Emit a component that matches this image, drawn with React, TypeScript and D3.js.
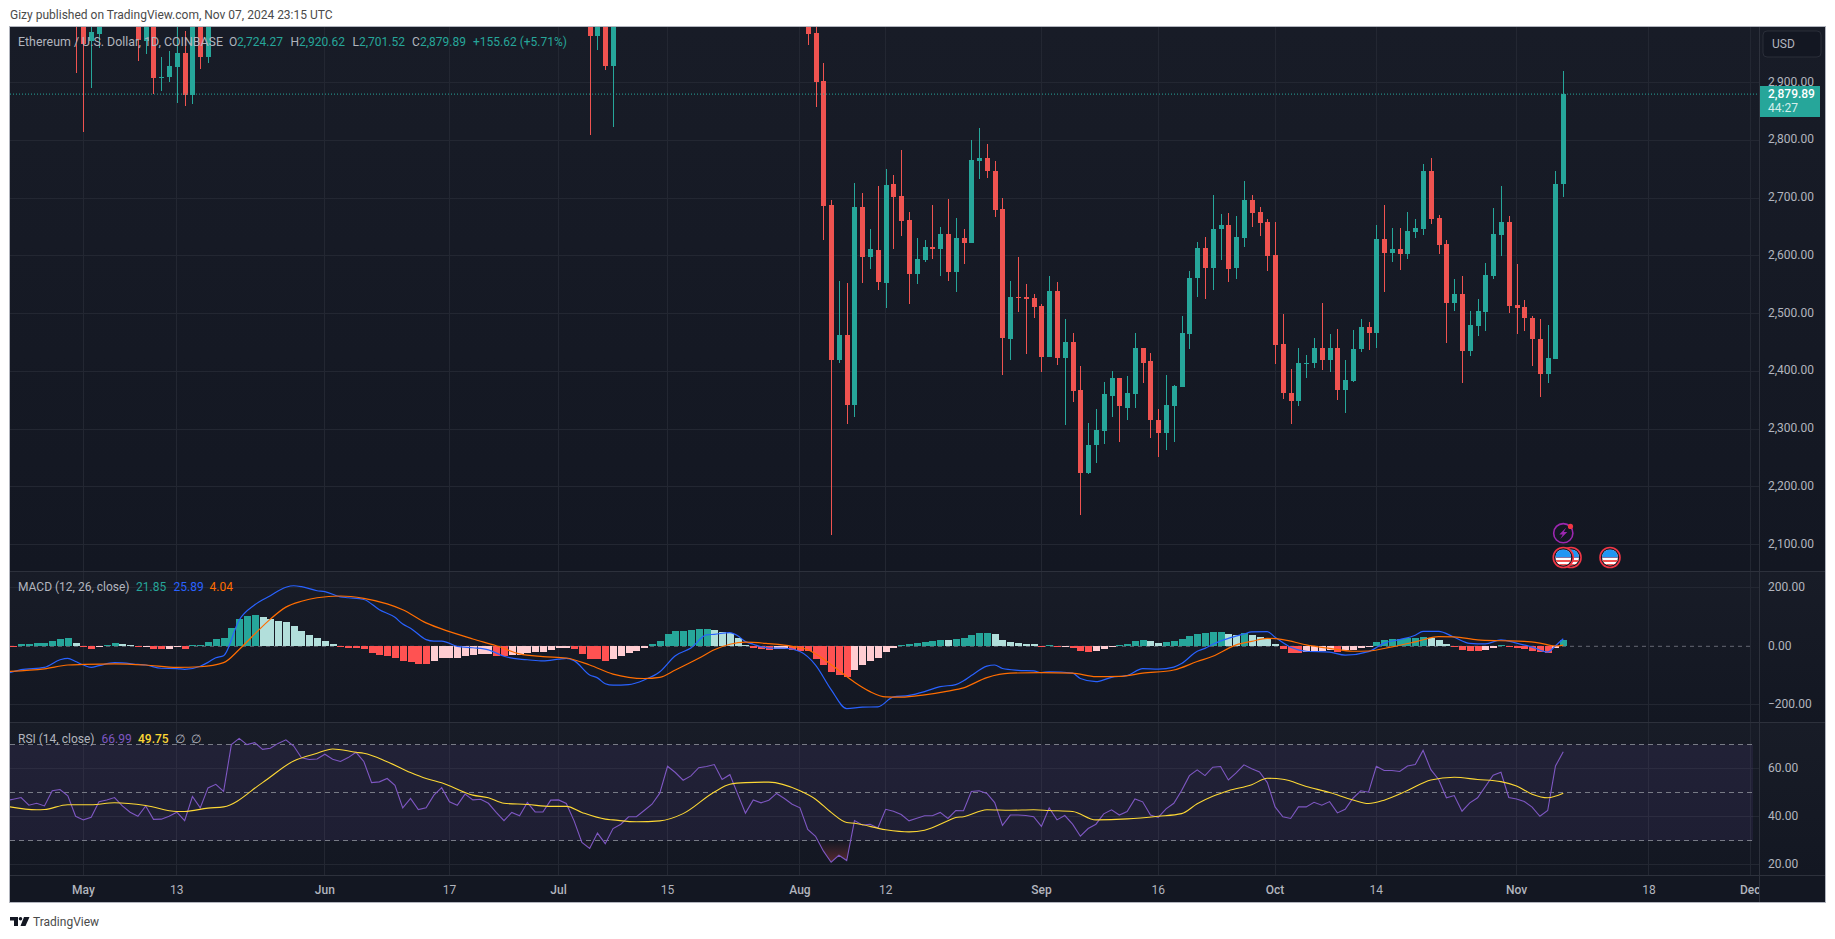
import { useEffect, useRef } from 'react'
import * as d3 from 'd3'

// Days are counted from 1 May 2024 (May 1 = 0, Nov 7 = 190)
const tickDays = [0, 12, 31, 47, 61, 75, 92, 103, 123, 138, 153, 166, 184, 201, 214]
const tickLabels = ['May', '13', 'Jun', '17', 'Jul', '15', 'Aug', '12', 'Sep', '16', 'Oct', '14', 'Nov', '18', 'Dec']
const monthTicks = ['May', 'Jun', 'Jul', 'Aug', 'Sep', 'Oct', 'Nov', 'Dec']

const priceTicks = [2900, 2800, 2700, 2600, 2500, 2400, 2300, 2200, 2100]
const macdTicks = [200, 0, -200]
const rsiGridTicks = [60, 40, 20]
const rsiBandTicks = [70, 50, 30]
const lastPrice = 2879.89

// candles that reach into the visible range; the ones above the pane are left out
const candleDays = [
  -1, 0, 1, 2, 7, 8, 9, 10, 11, 12, 13, 14, 15, 16, 65, 66, 67, 68, 93, 94, 95,
  96, 97, 98, 99, 100, 101, 102, 103, 104, 105, 106, 107, 108, 109, 110, 111, 112, 113, 114, 115,
  116, 117, 118, 119, 120, 121, 122, 123, 124, 125, 126, 127, 128, 129, 130, 131, 132, 133, 134, 135,
  136, 137, 138, 139, 140, 141, 142, 143, 144, 145, 146, 147, 148, 149, 150, 151, 152, 153, 154, 155,
  156, 157, 158, 159, 160, 161, 162, 163, 164, 165, 166, 167, 168, 169, 170, 171, 172, 173, 174, 175,
  176, 177, 178, 179, 180, 181, 182, 183, 184, 185, 186, 187, 188, 189, 190,
]
const opens = [
  3215, 3014, 2972, 2984, 3005, 2972, 3035, 2908, 2910, 2927, 2951, 2879, 3037, 2944, 3100, 2981, 3066, 2929, 3200, 2986, 2903,
  2688, 2420, 2462, 2341, 2684, 2597, 2610, 2553, 2724, 2703, 2662, 2568, 2592, 2615, 2612, 2638, 2571, 2631, 2622, 2764,
  2769, 2746, 2681, 2456, 2528, 2528, 2527, 2513, 2424, 2539, 2423, 2450, 2367, 2224, 2272, 2296, 2358, 2388, 2337, 2360,
  2441, 2417, 2315, 2293, 2339, 2372, 2464, 2561, 2613, 2579, 2646, 2653, 2579, 2631, 2696, 2675, 2658, 2601, 2447, 2363,
  2348, 2412, 2414, 2440, 2419, 2440, 2367, 2383, 2438, 2476, 2466, 2629, 2605, 2612, 2603, 2641, 2646, 2746, 2665, 2620,
  2519, 2533, 2435, 2478, 2502, 2565, 2636, 2658, 2514, 2511, 2493, 2456, 2395, 2421, 2724.27,
]
const highs = [
  3240, 3025, 3020, 3130, 3020, 3050, 3050, 2944, 2954, 3040, 2989, 3070, 3045, 3120, 3120, 3080, 3080, 3050, 3220, 3020, 2934,
  2696, 2556, 2553, 2726, 2709, 2646, 2721, 2750, 2740, 2783, 2675, 2631, 2627, 2688, 2649, 2698, 2665, 2646, 2800, 2821,
  2794, 2764, 2700, 2556, 2597, 2551, 2534, 2516, 2565, 2554, 2490, 2466, 2409, 2311, 2334, 2381, 2400, 2389, 2391, 2466,
  2441, 2432, 2334, 2393, 2376, 2495, 2573, 2623, 2632, 2705, 2672, 2674, 2669, 2729, 2705, 2684, 2664, 2658, 2499, 2404,
  2441, 2428, 2457, 2519, 2464, 2473, 2419, 2471, 2490, 2485, 2653, 2688, 2648, 2648, 2675, 2664, 2759, 2769, 2670, 2627,
  2560, 2565, 2504, 2525, 2587, 2683, 2720, 2669, 2586, 2523, 2495, 2490, 2480, 2746, 2920.62,
]
const lows = [
  2917, 2815, 2891, 2960, 2938, 2950, 2880, 2886, 2901, 2865, 2860, 2863, 2924, 2934, 2809, 2956, 2922, 2823, 2965, 2858, 2628,
  2117, 2415, 2308, 2320, 2553, 2577, 2540, 2510, 2612, 2634, 2516, 2551, 2589, 2594, 2565, 2556, 2537, 2586, 2622, 2733,
  2735, 2667, 2393, 2419, 2502, 2430, 2492, 2398, 2424, 2410, 2307, 2346, 2151, 2222, 2241, 2274, 2320, 2277, 2315, 2336,
  2380, 2284, 2251, 2263, 2277, 2372, 2438, 2528, 2525, 2540, 2592, 2554, 2560, 2615, 2649, 2634, 2573, 2412, 2352, 2308,
  2339, 2389, 2405, 2402, 2398, 2350, 2328, 2381, 2433, 2436, 2441, 2537, 2589, 2575, 2594, 2631, 2636, 2655, 2603, 2449,
  2504, 2380, 2426, 2461, 2469, 2560, 2599, 2501, 2464, 2469, 2409, 2355, 2380, 2421, 2701.52,
]
const closes = [
  3014, 2967, 2987, 3100, 2973, 3035, 2908, 2910, 2929, 2951, 2879, 3037, 2944, 3095, 2981, 3066, 2929, 3020, 2984, 2901, 2686,
  2420, 2462, 2341, 2684, 2597, 2612, 2554, 2722, 2701, 2660, 2568, 2594, 2615, 2612, 2638, 2571, 2631, 2622, 2766, 2769,
  2746, 2679, 2457, 2528, 2527, 2525, 2511, 2424, 2539, 2423, 2450, 2365, 2224, 2272, 2298, 2360, 2388, 2339, 2362, 2441,
  2415, 2315, 2293, 2341, 2374, 2466, 2561, 2613, 2579, 2646, 2653, 2577, 2632, 2696, 2674, 2657, 2599, 2445, 2362, 2348,
  2414, 2414, 2440, 2419, 2440, 2367, 2384, 2438, 2476, 2466, 2629, 2605, 2612, 2603, 2642, 2648, 2746, 2664, 2618, 2519,
  2533, 2435, 2480, 2504, 2566, 2637, 2658, 2513, 2510, 2492, 2456, 2395, 2423, 2724, 2879.89,
]

// MACD histogram, one bar a day from day -9
const histStart = -9
const histValues = [
  -4, 9, 9.5, 12, 12.5, 19, 26, 27, 12, -2,
  -8, -2, 6, 12, 9, 6, -2, -1.5, -8, -9,
  -8, -4, -8, 5, 5.5, 16, 26, 27, 63, 93,
  104, 107, 99, 93, 88, 83, 70, 54, 40, 27,
  19, 8, -1, -5, -5.5, -8, -23, -30, -33, -40,
  -50, -54, -60, -61, -50, -41, -40, -39.5, -33, -30,
  -27, -26, -33, -34, -30, -29, -23, -20, -19, -13,
  -6, -5, -9, -26, -43, -44, -50, -43, -33, -23,
  -16, -6, 8, 18, 42, 52, 53, 56, 59, 60,
  56, 49, 46, 28, 5, -6, -9, -13, -9, -8,
  -13, -16, -17, -43, -64, -88, -98, -105, -81, -64,
  -50, -40, -20, -6, 5, 8, 11, 15, 18, 22,
  21, 25, 28, 38, 46, 47, 42, 22, 15, 11,
  8, 7, -1, 5, -2, -1, -5, -16, -19, -16,
  -9, -2, 5, 8, 18, 22, 18, 11, 15, 18,
  25, 35, 42, 46, 48, 49, 42, 40, 46, 39,
  32, 25, 8, -9, -23, -24, -20, -16, -15, -14,
  -20, -13, -12, -6, -4, 15, 22, 25, 26, 27,
  28, 32, 28, 22, 8, -1, -13, -16, -17, -13,
  -6, 5, -1, -5, -9, -16, -19, -23, -5, 21.85,
]

const macdDays = [
  -10, -8, -5, -3, -2, -1, 0, 1, 2, 4, 5, 7, 8, 10, 12, 13, 15, 16, 17, 18, 20, 22, 24, 26, 27, 28, 30, 31, 33, 34, 36, 38,
  40, 41, 42, 44, 45, 46, 48, 50, 52, 54, 56, 57, 59, 61, 62, 63, 65, 66, 67, 68, 70, 72, 74, 76, 78, 80, 81, 83, 84, 85,
  86, 88, 90, 92, 94, 96, 98, 100, 102, 104, 106, 108, 110, 112, 113, 114, 116, 117, 118, 120, 122, 123, 124, 127, 128,
  130, 132, 134, 136, 138, 140, 141, 143, 144, 145, 147, 149, 150, 152, 153, 155, 157, 160, 162, 165, 167, 169, 171, 172,
  174, 176, 178, 180, 182, 184, 186, 188, 189, 190,
]
const macdLine = [
  -95, -80, -72, -46, -41, -52, -64, -72, -66, -56, -57, -62, -64, -75, -76, -79, -68, -55, -39, -32, 90, 142, 173, 202, 207, 204, 190, 187, 169, 166, 160, 125,
  99, 76, 62, 23, 18, 18, 0, -5, -12, -34, -44, -46, -50, -44, -41, -49, -98, -108, -128, -133, -131, -115, -87, -32, -6, 39, 41, 47, 36, 16,
  7, -6, -6, -18, -64, -148, -213, -208, -207, -173, -168, -155, -138, -131, -118, -100, -68, -64, -76, -82, -84, -90, -87, -92, -110,
  -121, -106, -100, -76, -78, -71, -59, -17, -7, 7, 27, 42, 49, 50, 31, -3, -17, -20, -30, -18, 11, 23, 38, 51,
  51, 31, 10, 8, 22, 11, -3, -20, 2, 25.89,
]

const signalDays = [
  -10, -5, -2, 0, 4, 8, 12, 15, 18, 20, 22, 24, 26, 28, 30, 33, 36, 39, 41, 44, 47, 50, 53, 56, 59, 62, 65, 68, 70, 72, 74, 76,
  79, 81, 83, 85, 88, 91, 93, 95, 97, 99, 101, 103, 105, 108, 111, 113, 116, 119, 123, 127, 130, 133, 136, 140, 143, 145, 148,
  150, 152, 154, 157, 160, 163, 165, 168, 171, 174, 176, 179, 182, 185, 187, 189, 190,
]
const signalLine = [
  -86, -77, -64, -62, -60, -64, -72, -70, -56, -11, 42, 93, 134, 154, 166, 172, 164, 145, 125, 80, 50, 25, 2, -26, -35, -40, -64, -95, -106, -110, -106, -81,
  -41, -12, 7, 14, 9, 0, -12, -43, -83, -123, -155, -173, -174, -166, -153, -142, -107, -92, -90, -92, -104, -103, -92, -81, -52, -34, 5,
  17, 27, 23, 5, -7, -17, -16, -2, 15, 33, 32, 22, 19, 17, 11, 1, 4.04,
]

// RSI, one point a day from day -10
const rsiStart = -10
const rsiValues = [
  46.6, 47.3, 48, 44.8, 45.6, 44.5, 50.8, 51.3, 48.7, 40.2,
  38.7, 39.8, 46.2, 47, 48, 44.5, 41.9, 40.2, 44.5, 38.9,
  39, 40.2, 41.9, 38.4, 48.4, 43.7, 52, 53.5, 50.5, 70,
  72.6, 70, 70.8, 68, 68.5, 70.5, 72, 69.4, 64.5, 63.8,
  64, 66, 63.9, 63, 64.6, 66.8, 63, 54.2, 54.5, 55.9,
  53.1, 43.7, 47.6, 43, 43.7, 49, 52.1, 46.2, 44.8, 49.4,
  47, 47.3, 45.6, 41.8, 38.4, 41.8, 40.4, 45.9, 42, 42,
  46.9, 47, 45.5, 38.3, 29.3, 26.8, 33.2, 28.8, 35.1, 36.9,
  40, 40, 42.6, 45.2, 49.8, 61, 58.4, 55.2, 57, 60.4,
  60.9, 61.7, 55.5, 57.5, 49.5, 41.5, 47, 45.8, 46.9, 49.7,
  47.6, 45.2, 43.7, 34.7, 31.9, 25.8, 21.1, 24, 21.8, 38.4,
  36.6, 36.9, 35.3, 43.1, 42.3, 40.9, 38.3, 39.4, 40.4, 40.4,
  41.8, 39.3, 42.6, 42.5, 50.5, 50.8, 49.7, 45.9, 36.4, 40.7,
  40.7, 40.5, 40, 36, 43.7, 38.7, 40.5, 36.9, 31.9, 35.1,
  36.9, 41.2, 42.9, 40.7, 42.2, 47.4, 46.2, 40.7, 39.7, 43.3,
  45.6, 50.9, 57.1, 59.5, 57.1, 60.6, 60.9, 55.3, 58.2, 61.6,
  60, 58.6, 54.2, 44.1, 40, 39.3, 44.1, 44.1, 46, 44.8,
  46.3, 41.6, 43.1, 47.7, 50.8, 50.2, 61, 59.2, 59.2, 58.8,
  61.1, 61.7, 67.6, 59.6, 55.5, 47.9, 48.8, 42.3, 45.8, 47.9,
  52.6, 57.3, 58.5, 48, 47.4, 46.3, 44, 40.2, 42.6, 61.1,
  66.99,
]

const rsiMaDays = [
  -10, -6, -5, -2, 1, 4, 8, 12, 13, 16, 18, 23, 27, 30, 32, 35, 36, 39, 42, 44, 46, 50, 52, 54, 57, 60, 62, 64, 67, 68,
  71, 74, 77, 81, 83, 85, 88, 92, 94, 96, 98, 99, 103, 106, 108, 111, 112, 113, 116, 119, 122, 124, 127, 130, 134, 138, 141, 143, 145,
  147, 150, 152, 154, 157, 160, 163, 165, 167, 170, 173, 176, 179, 182, 184, 186, 188, 190,
]
const rsiMaLine = [
  44.4, 42.9, 43, 45, 45, 45.8, 44.7, 42.2, 42.2, 43.6, 44.1, 54.2, 63.2, 66.4, 68.2, 66.8, 66.4, 62.9, 58.4, 55.9, 54.1, 49, 47.9, 45.6, 45.1, 44.3, 44.3, 41.8, 39, 38.7,
  37.9, 38.3, 41.3, 50.3, 53.5, 54.2, 54.4, 50.8, 47.3, 41.8, 37.6, 37.3, 34.6, 33.7, 34.4, 38.3, 39.7, 40, 42.9, 42.7, 42.9, 42.6, 42.2, 38.7, 39.1, 40.2, 41.3, 45.4, 48.5,
  50.8, 53.3, 56, 55.6, 52.6, 50.1, 47, 45.5, 46.9, 50.9, 55.3, 56.4, 55.5, 54.6, 52.8, 49.4, 47.9, 49.75,
]

const flagDays = [191, 190, 196]
const eventDay = 190

const UP = '#26a69a'
const DOWN = '#ef5350'
const GRID = '#232732'
const SEP = '#2d313c'
const AXIS_TEXT = '#b2b5be'
const FONT = "Roboto, sans-serif"

const W = 1835
const H = 939
const plot = { left: 10, right: 1759, frame: 1825, top: 27, bottom: 902.5 }
const paneMain = { top: 27, bottom: 571 }
const paneMacd = { top: 571, bottom: 722.5 }
const paneRsi = { top: 722.5, bottom: 875.5 }
const bandEnd = 1753

export default function App() {
  const svgRef = useRef<SVGSVGElement>(null)

  useEffect(() => {
    if (!svgRef.current) return
    const svg = d3.select(svgRef.current)
    svg.selectAll('*').remove()

    const x = d3.scaleLinear().domain([0, 214]).range([83.4, 1750.2])
    const yPrice = d3.scaleLinear().domain([2100, 2900]).range([544.5, 82.5])
    const yMacd = d3.scaleLinear().domain([-200, 200]).range([704.8, 587.8])
    const yRsi = d3.scaleLinear().domain([30, 70]).range([840.8, 744.6])

    const defs = svg.append('defs')
    const paneGrad = defs.append('linearGradient').attr('id', 'paneGrad').attr('x1', 0).attr('x2', 0).attr('y1', 0).attr('y2', 1)
    paneGrad.append('stop').attr('offset', '0%').attr('stop-color', '#181c27')
    paneGrad.append('stop').attr('offset', '100%').attr('stop-color', '#131722')

    const clip = (id: string, x0: number, y0: number, w: number, h: number) =>
      defs.append('clipPath').attr('id', id).append('rect').attr('x', x0).attr('y', y0).attr('width', w).attr('height', h)
    clip('clipMain', plot.left, paneMain.top, plot.right - plot.left, paneMain.bottom - paneMain.top)
    clip('clipMacd', plot.left, paneMacd.top, plot.right - plot.left, paneMacd.bottom - paneMacd.top)
    clip('clipRsi', plot.left, paneRsi.top, plot.right - plot.left, paneRsi.bottom - paneRsi.top)
    clip('clipTime', plot.left, paneRsi.bottom, plot.right - plot.left, plot.bottom - paneRsi.bottom)
    clip('clipOver', plot.left, paneRsi.top, plot.right - plot.left, yRsi(70) - paneRsi.top)
    clip('clipUnder', plot.left, yRsi(30), plot.right - plot.left, paneRsi.bottom - yRsi(30))

    const text = (
      g: d3.Selection<any, any, any, any>,
      tx: number, ty: number, s: string, fill: string, size = 12, weight = 400,
    ) =>
      g.append('text').attr('x', tx).attr('y', ty).attr('dy', '0.35em')
        .attr('font-family', FONT).attr('font-size', size).attr('font-weight', weight)
        .attr('fill', fill).text(s)

    // page background + panes
    svg.append('rect').attr('width', W).attr('height', H).attr('fill', '#ffffff')
    ;[paneMain, paneMacd, paneRsi].forEach(p => {
      svg.append('rect').attr('x', plot.left).attr('y', p.top)
        .attr('width', plot.frame - plot.left).attr('height', p.bottom - p.top)
        .attr('fill', 'url(#paneGrad)')
    })
    svg.append('rect').attr('x', plot.left).attr('y', paneRsi.bottom)
      .attr('width', plot.frame - plot.left).attr('height', plot.bottom - paneRsi.bottom).attr('fill', '#131722')

    // grid
    const gridG = svg.append('g').attr('shape-rendering', 'crispEdges')
    ;[paneMain, paneMacd, paneRsi].forEach(p => {
      tickDays.forEach(d => {
        gridG.append('line').attr('x1', x(d)).attr('x2', x(d)).attr('y1', p.top).attr('y2', p.bottom)
          .attr('stroke', GRID)
      })
    })
    const hGrid = (ys: number[]) => ys.forEach(y => {
      gridG.append('line').attr('x1', plot.left).attr('x2', plot.right).attr('y1', y).attr('y2', y).attr('stroke', GRID)
    })
    hGrid(priceTicks.map(t => yPrice(t)))
    hGrid(macdTicks.filter(t => t !== 0).map(t => yMacd(t)))
    hGrid(rsiGridTicks.map(t => yRsi(t)))

    // main pane: candles
    const main = svg.append('g').attr('clip-path', 'url(#clipMain)')
    candleDays.forEach((d, i) => {
      const up = closes[i] >= opens[i]
      const c = up ? UP : DOWN
      const cx = Math.round(x(d))
      main.append('rect').attr('x', cx - 0.5).attr('y', yPrice(highs[i])).attr('width', 1)
        .attr('height', yPrice(lows[i]) - yPrice(highs[i])).attr('fill', c).attr('shape-rendering', 'crispEdges')
      const top = yPrice(Math.max(opens[i], closes[i]))
      const bot = yPrice(Math.min(opens[i], closes[i]))
      main.append('rect').attr('x', cx - 2.5).attr('y', top).attr('width', 5)
        .attr('height', Math.max(1, bot - top)).attr('fill', c).attr('shape-rendering', 'crispEdges')
    })
    main.append('line').attr('x1', plot.left).attr('x2', plot.right)
      .attr('y1', yPrice(lastPrice)).attr('y2', yPrice(lastPrice))
      .attr('stroke', UP).attr('stroke-dasharray', '1 2')

    // events
    const ev = svg.append('g')
    const evX = x(eventDay)
    ev.append('circle').attr('cx', evX).attr('cy', 533.2).attr('r', 9.6)
      .attr('fill', '#131722').attr('stroke', '#9c27b0').attr('stroke-width', 1.6)
    ev.append('path')
      .attr('d', d3.line()([[evX + 3, 527.5], [evX - 4, 534.5], [evX - 0.5, 534.5], [evX - 3, 539], [evX + 4, 532], [evX + 0.5, 532]]) + 'Z')
      .attr('fill', '#9c27b0')
    ev.append('circle').attr('cx', evX + 7.2).attr('cy', 526.4).attr('r', 2.6).attr('fill', '#f23645')
    flagDays.forEach((d, i) => {
      const fx = x(d)
      const id = `flag${i}`
      defs.append('clipPath').attr('id', id).append('circle').attr('cx', fx).attr('cy', 557.5).attr('r', 8)
      const f = ev.append('g')
      f.append('circle').attr('cx', fx).attr('cy', 557.5).attr('r', 10).attr('fill', '#131722')
        .attr('stroke', '#f23645').attr('stroke-width', 1.6)
      const inner = f.append('g').attr('clip-path', `url(#${id})`)
      inner.append('rect').attr('x', fx - 8).attr('y', 549.5).attr('width', 16).attr('height', 16).attr('fill', '#ffffff')
      ;[556, 560, 564].forEach(sy => {
        inner.append('rect').attr('x', fx - 8).attr('y', sy).attr('width', 16).attr('height', 2).attr('fill', '#ef5350')
      })
      inner.append('rect').attr('x', fx - 8).attr('y', 549.5).attr('width', 16).attr('height', 8).attr('fill', '#2196f3')
    })

    // legend of the main series
    const legendY = 41.7
    text(svg, 18, legendY, 'Ethereum / U.S. Dollar, 1D, COINBASE', AXIS_TEXT, 12.4)
    const ohlcLabels = ['O', 'H', 'L', 'C']
    const ohlcText = ['2,724.27', '2,920.62', '2,701.52', '2,879.89']
    const ohlcLabelX = [229, 290.5, 352.6, 412]
    const ohlcValueX = [237, 299, 359, 420]
    ohlcLabels.forEach((l, i) => {
      text(svg, ohlcLabelX[i], legendY, l, AXIS_TEXT)
      text(svg, ohlcValueX[i], legendY, ohlcText[i], UP)
    })
    text(svg, 473, legendY, '+155.62 (+5.71%)', UP)

    // MACD pane
    const macdG = svg.append('g').attr('clip-path', 'url(#clipMacd)')
    macdG.append('line').attr('x1', plot.left).attr('x2', bandEnd).attr('y1', yMacd(0)).attr('y2', yMacd(0))
      .attr('stroke', '#787b86').attr('stroke-dasharray', '4 4').attr('opacity', 0.8)
    histValues.forEach((v, i) => {
      const prev = i > 0 ? histValues[i - 1] : v
      const col = v >= 0 ? (v > prev ? '#26a69a' : '#b2dfdb') : (v > prev ? '#ffcdd2' : '#ff5252')
      macdG.append('rect').attr('x', Math.round(x(histStart + i)) - 3).attr('width', 7)
        .attr('y', Math.min(yMacd(v), yMacd(0))).attr('height', Math.max(1, Math.abs(yMacd(v) - yMacd(0))))
        .attr('fill', col).attr('shape-rendering', 'crispEdges')
    })
    const macdPath = d3.line<number>().x((_, i) => x(macdDays[i])).y(v => yMacd(v)).curve(d3.curveMonotoneX)
    const signalPath = d3.line<number>().x((_, i) => x(signalDays[i])).y(v => yMacd(v)).curve(d3.curveMonotoneX)
    macdG.append('path').attr('d', macdPath(macdLine)).attr('fill', 'none').attr('stroke', '#2962ff').attr('stroke-width', 1.2)
    macdG.append('path').attr('d', signalPath(signalLine)).attr('fill', 'none').attr('stroke', '#ff6d00').attr('stroke-width', 1.2)
    text(svg, 18, 586.7, 'MACD (12, 26, close)', AXIS_TEXT)
    text(svg, 136, 586.7, '21.85', UP)
    text(svg, 173.5, 586.7, '25.89', '#2962ff')
    text(svg, 209.5, 586.7, '4.04', '#ff6d00')

    // RSI pane
    defs.append('linearGradient').attr('id', 'under').attr('gradientUnits', 'userSpaceOnUse')
      .attr('x1', 0).attr('x2', 0).attr('y1', yRsi(30)).attr('y2', yRsi(20))
      .call(g => {
        g.append('stop').attr('offset', '0%').attr('stop-color', '#ef5350').attr('stop-opacity', 0)
        g.append('stop').attr('offset', '100%').attr('stop-color', '#ef5350').attr('stop-opacity', 0.35)
      })
    defs.append('linearGradient').attr('id', 'over').attr('gradientUnits', 'userSpaceOnUse')
      .attr('x1', 0).attr('x2', 0).attr('y1', yRsi(70)).attr('y2', yRsi(80))
      .call(g => {
        g.append('stop').attr('offset', '0%').attr('stop-color', '#26a69a').attr('stop-opacity', 0)
        g.append('stop').attr('offset', '100%').attr('stop-color', '#26a69a').attr('stop-opacity', 0.35)
      })
    const rsiG = svg.append('g').attr('clip-path', 'url(#clipRsi)')
    rsiG.append('rect').attr('x', plot.left).attr('y', yRsi(70)).attr('width', bandEnd - plot.left)
      .attr('height', yRsi(30) - yRsi(70)).attr('fill', '#7e57c2').attr('opacity', 0.1)
    rsiBandTicks.forEach(t => {
      rsiG.append('line').attr('x1', plot.left).attr('x2', bandEnd).attr('y1', yRsi(t)).attr('y2', yRsi(t))
        .attr('stroke', '#787b86').attr('stroke-dasharray', '5 4').attr('shape-rendering', 'crispEdges')
    })
    const rsiX = (_: number, i: number) => x(rsiStart + i)
    rsiG.append('path')
      .attr('d', d3.area<number>().x(rsiX).y0(yRsi(30)).y1(v => yRsi(v))(rsiValues))
      .attr('fill', 'url(#under)').attr('clip-path', 'url(#clipUnder)')
    rsiG.append('path')
      .attr('d', d3.area<number>().x(rsiX).y0(yRsi(70)).y1(v => yRsi(v))(rsiValues))
      .attr('fill', 'url(#over)').attr('clip-path', 'url(#clipOver)')
    rsiG.append('path').attr('d', d3.line<number>().x(rsiX).y(v => yRsi(v))(rsiValues))
      .attr('fill', 'none').attr('stroke', '#7e57c2').attr('stroke-width', 1.1)
    const maPath = d3.line<number>().x((_, i) => x(rsiMaDays[i])).y(v => yRsi(v)).curve(d3.curveMonotoneX)
    rsiG.append('path').attr('d', maPath(rsiMaLine)).attr('fill', 'none').attr('stroke', '#fdd835').attr('stroke-width', 1.1)
    text(svg, 18, 738.5, 'RSI (14, close)', AXIS_TEXT)
    text(svg, 101.6, 738.5, '66.99', '#7e57c2')
    text(svg, 138, 738.5, '49.75', '#fdd835', 12, 500)
    text(svg, 175, 738.5, '∅', AXIS_TEXT)
    text(svg, 191, 738.5, '∅', AXIS_TEXT)

    // right axis
    const axisX = 1768
    priceTicks.forEach(t => text(svg, axisX, yPrice(t) - 1, d3.format(',.2f')(t), AXIS_TEXT))
    macdTicks.forEach(t => text(svg, axisX, yMacd(t) - 1, d3.format(',.2f')(t).replace('-', '−'), AXIS_TEXT))
    rsiGridTicks.forEach(t => text(svg, axisX, yRsi(t) - 1, d3.format('.2f')(t), AXIS_TEXT))

    // last price tag
    svg.append('rect').attr('x', plot.right).attr('y', 86).attr('width', 61).attr('height', 31).attr('fill', UP)
    text(svg, axisX, 93.6, '2,879.89', '#ffffff', 12, 500)
    text(svg, axisX, 107.5, '44:27', '#d4eeeb')

    // USD button
    svg.append('rect').attr('x', 1763).attr('y', 31).attr('width', 58).attr('height', 26).attr('rx', 4)
      .attr('fill', '#131722').attr('stroke', '#2a2e39')
    text(svg, 1772, 44, 'USD', AXIS_TEXT)

    // time axis
    const timeG = svg.append('g').attr('clip-path', 'url(#clipTime)')
    tickDays.forEach((d, i) => {
      const month = monthTicks.includes(tickLabels[i])
      text(timeG, x(d), 890, tickLabels[i], AXIS_TEXT, 12, month ? 500 : 400).attr('text-anchor', 'middle')
    })

    // separators + frame
    const sep = svg.append('g').attr('shape-rendering', 'crispEdges')
    ;[paneMain.bottom, paneMacd.bottom, paneRsi.bottom].forEach(y => {
      sep.append('line').attr('x1', plot.left).attr('x2', plot.frame).attr('y1', y).attr('y2', y).attr('stroke', SEP)
    })
    sep.append('line').attr('x1', plot.right).attr('x2', plot.right).attr('y1', plot.top).attr('y2', plot.bottom).attr('stroke', SEP)
    sep.append('rect').attr('x', plot.left - 0.5).attr('y', plot.top - 0.5)
      .attr('width', plot.frame - plot.left + 0.5).attr('height', plot.bottom - plot.top + 0.5)
      .attr('fill', 'none').attr('stroke', '#b2b5be')

    // page header + footer
    text(svg, 10, 14.7, 'Gizy published on TradingView.com, Nov 07, 2024 23:15 UTC', '#4a4a4a')
    const logo = svg.append('g').attr('fill', '#131722')
    logo.append('rect').attr('x', 10).attr('y', 917).attr('width', 8).attr('height', 3.5)
    logo.append('rect').attr('x', 14).attr('y', 917).attr('width', 4).attr('height', 9)
    logo.append('circle').attr('cx', 20.5).attr('cy', 918.8).attr('r', 1.8)
    logo.append('path').attr('d', d3.line()([[24, 917], [29.5, 917], [25.5, 926], [20.5, 926]]) + 'Z')
    text(svg, 33, 921.7, 'TradingView', '#4a4a4a')
  }, [])

  return <svg ref={svgRef} width={W} height={H} style={{ position: 'absolute', left: 0, top: 0 }} />
}
